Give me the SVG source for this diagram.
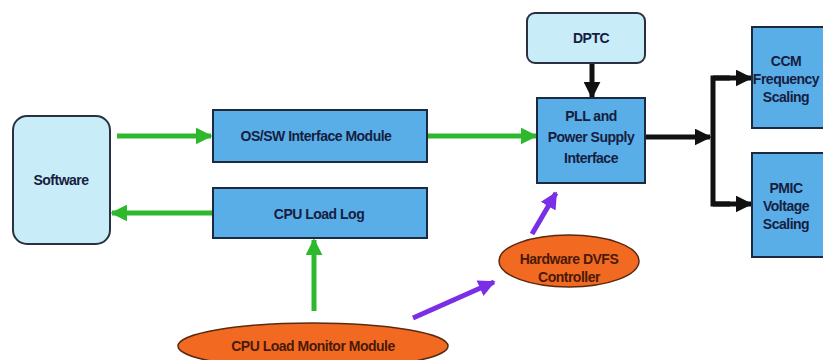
<svg xmlns="http://www.w3.org/2000/svg" width="823" height="360" viewBox="0 0 823 360">
<style>
.box{fill:#5aaee8;stroke:#1b2a40;stroke-width:2}
.light{fill:#c8ecf8;stroke:#2a3040;stroke-width:2}
.ell{fill:#f26a22;stroke:#5a2a10;stroke-width:1.5}
.t{font-family:"Liberation Sans",Arial,sans-serif;font-weight:bold;font-size:14px;fill:#152040;text-anchor:middle;letter-spacing:-0.5px}
.te{font-family:"Liberation Sans",Arial,sans-serif;font-weight:bold;font-size:14px;fill:#4a1a08;text-anchor:middle;letter-spacing:-0.5px}
.g{stroke:#2eb82e;stroke-width:5;fill:none}
.k{stroke:#111;stroke-width:5;fill:none}
.p{stroke:#7a2ee6;stroke-width:5;fill:none}
</style>
<defs>
<marker id="ag" viewBox="0 0 10 10" refX="9" refY="5" markerWidth="3.4" markerHeight="3.4" orient="auto" markerUnits="strokeWidth"><path d="M0,0 L10,5 L0,10 z" fill="#2eb82e"/></marker>
<marker id="ak" viewBox="0 0 10 10" refX="9" refY="5" markerWidth="3.4" markerHeight="3.4" orient="auto" markerUnits="strokeWidth"><path d="M0,0 L10,5 L0,10 z" fill="#111"/></marker>
<marker id="ap" viewBox="0 0 10 10" refX="9" refY="5" markerWidth="3.4" markerHeight="3.4" orient="auto" markerUnits="strokeWidth"><path d="M0,0 L10,5 L0,10 z" fill="#7a2ee6"/></marker>
</defs>
<rect width="823" height="360" fill="#ffffff"/>
<g id="connectors">
<line class="g" x1="117" y1="136" x2="211" y2="136" marker-end="url(#ag)"/>
<line class="g" x1="212" y1="213" x2="112" y2="213" marker-end="url(#ag)"/>
<line class="g" x1="428" y1="136" x2="536" y2="136" marker-end="url(#ag)"/>
<line class="g" x1="314" y1="311" x2="314" y2="240" marker-end="url(#ag)"/>
<line class="k" x1="592" y1="64" x2="592" y2="97" marker-end="url(#ak)"/>
<line class="k" x1="646" y1="137" x2="710" y2="137" marker-end="url(#ak)"/>
<polyline class="k" points="730,78 713,78 713,204 730,204"/>
<line class="k" x1="713" y1="78" x2="751" y2="78" marker-end="url(#ak)"/>
<line class="k" x1="713" y1="204" x2="751" y2="204" marker-end="url(#ak)"/>
<line class="p" x1="413" y1="318" x2="494" y2="282" marker-end="url(#ap)"/>
<line class="p" x1="532" y1="234" x2="556" y2="193" marker-end="url(#ap)"/>
</g>
<g id="software">
<rect class="light" x="13" y="116" width="97" height="128" rx="14"/>
<text class="t" x="61" y="185">Software</text>
</g>
<g id="os-sw">
<rect class="box" x="213" y="110" width="214" height="52"/>
<text class="t" x="316" y="141">OS/SW Interface Module</text>
</g>
<g id="cpu-load-log">
<rect class="box" x="213" y="188" width="214" height="50"/>
<text class="t" x="319" y="219">CPU Load Log</text>
</g>
<g id="dptc">
<rect class="light" x="527" y="13" width="118" height="50" rx="8"/>
<text class="t" x="591" y="43">DPTC</text>
</g>
<g id="pll">
<rect class="box" x="537" y="98" width="108" height="85"/>
<text class="t" x="591" y="121">PLL and</text>
<text class="t" x="591" y="142">Power Supply</text>
<text class="t" x="591" y="163">Interface</text>
</g>
<g id="ccm">
<rect class="box" x="752" y="27" width="80" height="101"/>
<text class="t" x="786" y="66">CCM</text>
<text class="t" x="786" y="84">Frequency</text>
<text class="t" x="786" y="102">Scaling</text>
</g>
<g id="pmic">
<rect class="box" x="752" y="153" width="80" height="104"/>
<text class="t" x="786" y="193">PMIC</text>
<text class="t" x="786" y="211">Voltage</text>
<text class="t" x="786" y="229">Scaling</text>
</g>
<g id="hw-dvfs">
<ellipse class="ell" cx="569" cy="261" rx="70" ry="26"/>
<text class="te" x="569" y="264">Hardware DVFS</text>
<text class="te" x="569" y="282">Controller</text>
</g>
<g id="cpu-load-monitor">
<ellipse class="ell" cx="313" cy="346" rx="135" ry="23"/>
<text class="te" x="313" y="351">CPU Load Monitor Module</text>
</g>
</svg>
